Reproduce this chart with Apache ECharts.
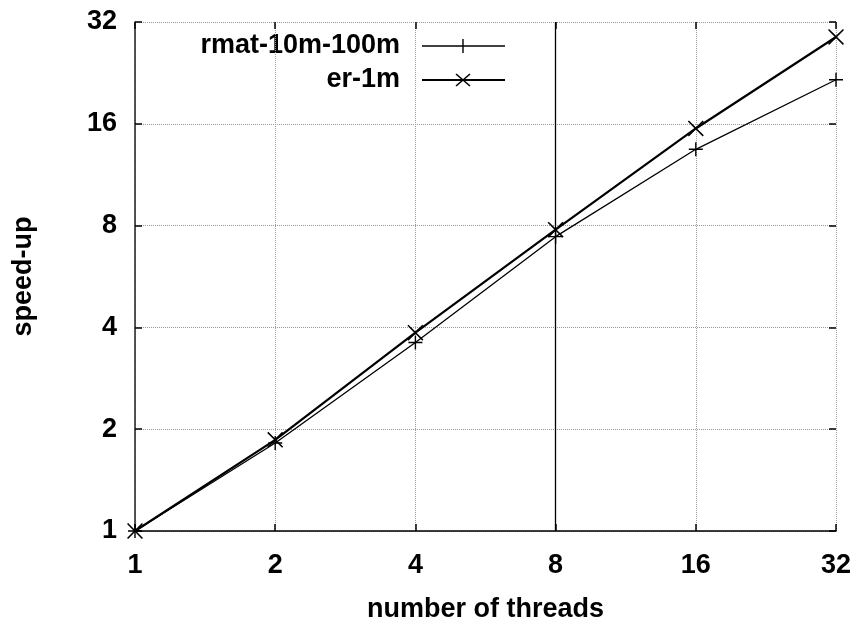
<!DOCTYPE html>
<html>
<head>
<meta charset="utf-8">
<script src="https://cdn.jsdelivr.net/npm/echarts@6/dist/echarts.min.js"></script>
<style>html,body{margin:0;padding:0;background:#fff;}#c{width:866px;height:634px;}</style>
</head>
<body>
<div id="c"></div>
<script>
const threads = [1, 2, 4, 8, 16, 32];
const rmatSpeedup = [1, 1.82, 3.61, 7.42, 13.45, 21.6];
const erSpeedup = [1, 1.86, 3.86, 7.78, 15.5, 28.9];
const tickValues = [1, 2, 4, 8, 16, 32];
const seriesNames = ['rmat-10m-100m', 'er-1m'];

const FONT = '"Liberation Sans", Arial, Helvetica, sans-serif';
const FS = 27;
const FW = 'bold';
const plusPath = 'path://M4.5,0H5.5V4.5H10V5.5H5.5V10H4.5V5.5H0V4.5H4.5Z';
const crossPath = 'path://M0,0.7L0.7,0L5,4.3L9.3,0L10,0.7L5.7,5L10,9.3L9.3,10L5,5.7L0.7,10L0,9.3L4.3,5Z';

const chart = echarts.init(document.getElementById('c'));
const baseAxis = {
  type: 'log', logBase: 2, min: 1, max: 32
};
const labelFmt = v => tickValues.includes(Math.round(v)) ? String(Math.round(v)) : '';
chart.setOption({
  animation: false,
  backgroundColor: '#fff',
  grid: { left: 135, right: 30, top: 22, bottom: 103 },
  xAxis: [
    Object.assign({}, baseAxis, {
      position: 'bottom',
      name: 'number of threads', nameLocation: 'middle', nameGap: 65,
      nameTextStyle: { fontFamily: FONT, fontSize: FS, fontWeight: FW, color: '#000' },
      axisLine: { show: true, lineStyle: { color: '#000', width: 1.5 } },
      axisTick: { show: true, inside: true, length: 7, lineStyle: { color: '#000', width: 1.5 } },
      axisLabel: { margin: 21, fontFamily: FONT, fontSize: FS, fontWeight: FW, color: '#000', formatter: labelFmt },
      splitLine: { show: true, lineStyle: { color: '#999', type: 'dotted', width: 1 } }
    }),
    Object.assign({}, baseAxis, {
      position: 'top',
      axisLine: { show: false },
      axisTick: { show: true, inside: true, length: 7, lineStyle: { color: '#000', width: 1.5 } },
      axisLabel: { show: false },
      splitLine: { show: false }
    })
  ],
  yAxis: [
    Object.assign({}, baseAxis, {
      position: 'left',
      name: 'speed-up', nameLocation: 'middle', nameGap: 98,
      nameTextStyle: { fontFamily: FONT, fontSize: FS, fontWeight: FW, color: '#000' },
      axisLine: { show: true, lineStyle: { color: '#222', width: 1.5 } },
      axisTick: { show: true, inside: true, length: 7, lineStyle: { color: '#000', width: 1.5 } },
      axisLabel: { margin: 18, fontFamily: FONT, fontSize: FS, fontWeight: FW, color: '#000', formatter: labelFmt },
      splitLine: { show: true, lineStyle: { color: '#999', type: 'dotted', width: 1 } }
    }),
    Object.assign({}, baseAxis, {
      position: 'right',
      axisLine: { show: false },
      axisTick: { show: true, inside: true, length: 7, lineStyle: { color: '#000', width: 1.5 } },
      axisLabel: { show: false },
      splitLine: { show: false }
    })
  ],
  series: [
    {
      name: seriesNames[0], type: 'line', xAxisIndex: 0, yAxisIndex: 0,
      data: threads.map((t, i) => [t, rmatSpeedup[i]]),
      lineStyle: { color: '#000', width: 1.3 },
      symbol: plusPath, symbolSize: 14, showSymbol: true,
      itemStyle: { color: '#000', borderWidth: 0 },
      z: 3,
      markLine: {
        silent: true, symbol: 'none', label: { show: false },
        lineStyle: { color: '#000', type: 'solid', width: 1.3 },
        data: [{ xAxis: 8 }]
      }
    },
    {
      name: seriesNames[1], type: 'line', xAxisIndex: 0, yAxisIndex: 0,
      data: threads.map((t, i) => [t, erSpeedup[i]]),
      lineStyle: { color: '#000', width: 2.2 },
      symbol: crossPath, symbolSize: 16, showSymbol: true,
      itemStyle: { color: '#000', borderWidth: 0 },
      z: 4
    }
  ],
  graphic: [
    { type: 'text', x: 400, y: 46, style: { text: seriesNames[0], fontFamily: FONT, fontSize: FS, fontWeight: FW, fill: '#000', textAlign: 'right', textVerticalAlign: 'middle' } },
    { type: 'text', x: 400, y: 80, style: { text: seriesNames[1], fontFamily: FONT, fontSize: FS, fontWeight: FW, fill: '#000', textAlign: 'right', textVerticalAlign: 'middle' } },
    { type: 'line', shape: { x1: 422, y1: 46, x2: 505, y2: 46 }, style: { stroke: '#000', lineWidth: 1.3 } },
    { type: 'line', shape: { x1: 463, y1: 39, x2: 463, y2: 53 }, style: { stroke: '#000', lineWidth: 1.4 } },
    { type: 'line', shape: { x1: 422, y1: 80, x2: 505, y2: 80 }, style: { stroke: '#000', lineWidth: 2 } },
    { type: 'line', shape: { x1: 456, y1: 74, x2: 470, y2: 86 }, style: { stroke: '#000', lineWidth: 1.6 } },
    { type: 'line', shape: { x1: 456, y1: 86, x2: 470, y2: 74 }, style: { stroke: '#000', lineWidth: 1.6 } }
  ]
});
</script>
</body>
</html>
